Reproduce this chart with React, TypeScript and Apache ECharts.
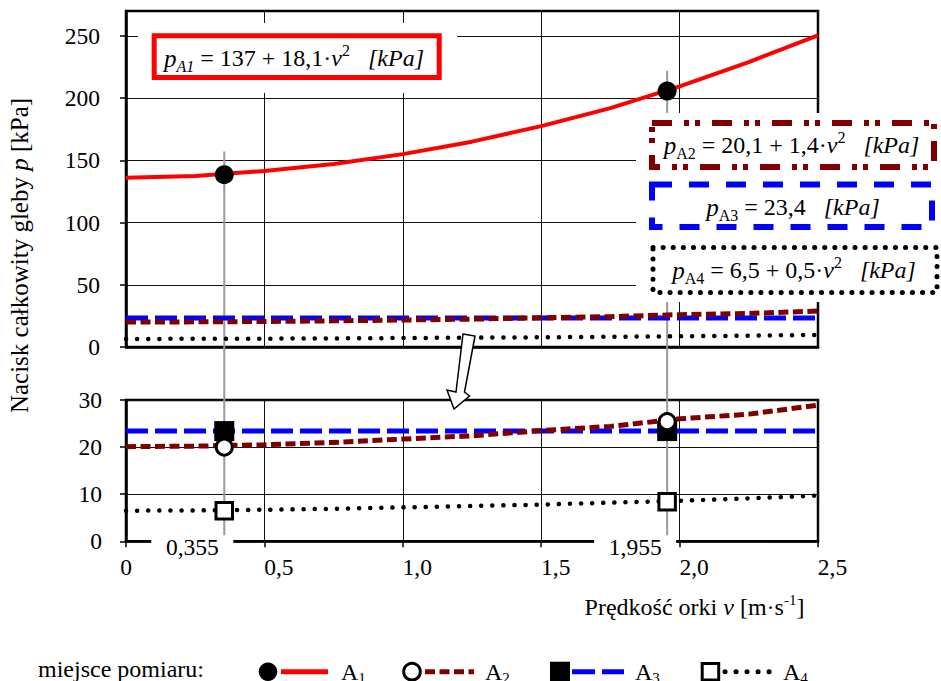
import React, { useEffect, useRef } from 'react';
import * as echarts from 'echarts';

// ---- data ----
const vGrid = [0, 0.25, 0.5, 0.75, 1.0, 1.25, 1.5, 1.75, 2.0, 2.25, 2.5];
const a1Vals = [136, 137.5, 141.5, 147, 155, 165, 177.5, 192, 209.5, 229, 250.5];
const a2Vals = [20.1, 20.2, 20.5, 21.0, 21.7, 22.4, 23.5, 24.4, 26.0, 27.0, 28.9];
const a3V = [0, 2.5];
const a3Vals = [23.4, 23.4];
const a4Vals = [6.5, 6.55, 6.7, 6.9, 7.2, 7.5, 7.8, 8.2, 8.6, 9.1, 9.7];

const measV = [0.355, 1.955];
const measLabels = ['0,355', '1,955'];
const a1Meas = [138.5, 205.7];
const a2Meas = [20.0, 25.4];
const a3Meas = [23.4, 23.4];
const a4Meas = [6.5, 8.4];

const yTopTicks = [0, 50, 100, 150, 200, 250];

const FONT = 'Liberation Serif, serif';
const TICK_FS = 23.5;

const pairs = (xs: number[], ys: number[]) => xs.map((x, i) => [x, ys[i]]);
const fmtX = (v: number) => (v === 0 ? '0' : v.toFixed(1).replace('.', ','));

export default function App() {
  const ref = useRef<HTMLDivElement>(null);
  useEffect(() => {
    const chart = echarts.init(ref.current!, null, { renderer: 'svg' });

    const lA1 = { color: '#ff0000', width: 4, type: 'solid' as const };
    const lA2 = { color: '#800000', width: 5, type: [10, 4.5] };
    const lA3 = { color: '#0000ff', width: 5, type: [22, 7] };
    const lA4 = { color: '#000000', width: 4.5, type: [0.1, 11], cap: 'round' };

    const axisLine = { show: true, lineStyle: { color: '#000', width: 2.5 } };
    const split = { show: true, lineStyle: { color: '#111', width: 1 } };

    const lineSeries = (name: string, xs: number[], ys: number[], ls: any, gi: number) => ({
      name,
      type: 'line',
      xAxisIndex: gi,
      yAxisIndex: gi,
      data: pairs(xs, ys),
      showSymbol: false,
      symbol: 'none',
      lineStyle: ls,
      silent: true,
      z: 2,
    });

    const option: any = {
      animation: false,
      backgroundColor: '#ffffff',
      textStyle: { fontFamily: FONT },
      grid: [
        { left: 126, top: 11, width: 692, height: 336, show: true, borderColor: '#000', borderWidth: 2.5 },
        { left: 126, top: 400, width: 692, height: 141.3, show: true, borderColor: '#000', borderWidth: 2.5 },
      ],
      xAxis: [
        {
          type: 'value', gridIndex: 0, min: 0, max: 2.5, interval: 0.5,
          axisLine, axisTick: { show: false }, axisLabel: { show: false }, splitLine: split,
        },
        {
          type: 'value', gridIndex: 1, min: 0, max: 2.5, interval: 0.5,
          axisLine,
          axisTick: { show: true, inside: false, length: 6, lineStyle: { color: '#000', width: 1.5 } },
          axisLabel: {
            show: true, margin: 14, color: '#000', fontFamily: FONT, fontSize: TICK_FS, align: 'center',
            formatter: (v: number) => (v === 0 ? '{z|0}' : '{a|' + fmtX(v) + '}'),
            rich: {
              z: { fontFamily: FONT, fontSize: TICK_FS, color: '#000' },
              a: { fontFamily: FONT, fontSize: TICK_FS, color: '#000', padding: [0, 0, 0, 29] },
            },
          },
          splitLine: split,
        },
      ],
      yAxis: [
        {
          type: 'value', gridIndex: 0, min: 0, max: 270, interval: 50,
          axisLine,
          axisTick: { show: true, inside: false, length: 6, lineStyle: { color: '#000', width: 1.5 }, customValues: yTopTicks },
          axisLabel: {
            show: true, margin: 26, color: '#000', fontFamily: FONT, fontSize: TICK_FS,
            customValues: yTopTicks,
            formatter: (v: number) => (v % 50 === 0 ? String(v) : ''),
          },
          splitLine: split,
        },
        {
          type: 'value', gridIndex: 1, min: 0, max: 30, interval: 10,
          axisLine,
          axisTick: { show: true, inside: false, length: 6, lineStyle: { color: '#000', width: 1.5 } },
          axisLabel: { show: true, margin: 24, color: '#000', fontFamily: FONT, fontSize: TICK_FS },
          splitLine: split,
        },
      ],
      series: [
        lineSeries('A1', vGrid, a1Vals, lA1, 0),
        lineSeries('A3top', a3V, a3Vals, lA3, 0),
        lineSeries('A2top', vGrid, a2Vals, lA2, 0),
        lineSeries('A4top', vGrid, a4Vals, lA4, 0),
        lineSeries('A3', a3V, a3Vals, lA3, 1),
        lineSeries('A2', vGrid, a2Vals, lA2, 1),
        lineSeries('A4', vGrid, a4Vals, lA4, 1),
        {
          name: 'A1 pomiar', type: 'scatter', xAxisIndex: 0, yAxisIndex: 0,
          data: pairs(measV, a1Meas), symbol: 'circle', symbolSize: 19,
          itemStyle: { color: '#000', opacity: 1 }, z: 5, silent: true,
        },
        {
          name: 'A3 pomiar', type: 'scatter', xAxisIndex: 1, yAxisIndex: 1,
          data: pairs(measV, a3Meas), symbol: 'rect', symbolSize: 20,
          itemStyle: { color: '#000', opacity: 1 }, z: 5, silent: true,
        },
        {
          name: 'A2 pomiar', type: 'scatter', xAxisIndex: 1, yAxisIndex: 1,
          data: pairs(measV, a2Meas), symbol: 'circle', symbolSize: 16,
          itemStyle: { color: '#fff', borderColor: '#000', borderWidth: 3, opacity: 1 }, z: 6, silent: true,
        },
        {
          name: 'A4 pomiar', type: 'scatter', xAxisIndex: 1, yAxisIndex: 1,
          data: pairs(measV, a4Meas), symbol: 'rect', symbolSize: 16.5,
          itemStyle: { color: '#fff', borderColor: '#000', borderWidth: 3, opacity: 1 }, z: 6, silent: true,
        },
      ],
    };
    chart.setOption(option);

    // ---- annotations ----
    const tok = (size: number, lh: number, italic = false, va?: string) => ({
      fontFamily: FONT, fontSize: size, fontStyle: italic ? 'italic' : 'normal', lineHeight: lh,
      fill: '#000', ...(va ? { verticalAlign: va } : {}),
    });
    const eqRich = {
      p: tok(25, 32, true),
      sub: tok(16, 16, true, 'bottom'),
      subn: tok(16, 16, false, 'bottom'),
      n: tok(24, 32),
      v: tok(24, 32, true),
      sup: tok(16, 16, false, 'top'),
      it: tok(24, 32, true),
    };
    const eqText = (x: number, y: number, text: string) => ({
      type: 'text', x, y, z: 12, silent: true,
      style: { text, rich: eqRich, align: 'center', verticalAlign: 'middle', fontFamily: FONT, fontSize: 24, fill: '#000' },
    });

    const graphics: any[] = [];

    // measurement guide lines & labels
    measV.forEach((v, i) => {
      const px = chart.convertToPixel({ xAxisIndex: 1 }, v) as number;
      const yTopVal = i === 0 ? 157 : 222;
      const y1 = chart.convertToPixel({ yAxisIndex: 0 }, yTopVal) as number;
      const y2 = chart.convertToPixel({ yAxisIndex: 1 }, 1.3) as number;
      graphics.push({
        type: 'line', z: 1, silent: true,
        shape: { x1: px, y1, x2: px, y2 },
        style: { stroke: '#9a9a9a', lineWidth: 2 },
      });
      const yAx = chart.convertToPixel({ yAxisIndex: 1 }, 0) as number;
      graphics.push({
        type: 'rect', z: 10, silent: true,
        shape: { x: px - 73, y: yAx - 5, width: 82, height: 24 },
        style: { fill: '#fff', stroke: null },
      });
      graphics.push({
        type: 'text', z: 11, silent: true, x: px - 5.5, y: yAx + 6,
        style: { text: measLabels[i], fontFamily: FONT, fontSize: TICK_FS, fill: '#000', align: 'right', verticalAlign: 'middle' },
      });
    });

    // equation boxes
    graphics.push({ type: 'rect', z: 8, silent: true, shape: { x: 138, y: 23, width: 319, height: 70 }, style: { fill: '#fff' } });
    graphics.push({
      type: 'rect', z: 9, silent: true, shape: { x: 154.2, y: 35.8, width: 285, height: 41.7 },
      style: { fill: '#fff', stroke: '#ff0000', lineWidth: 5 },
    });
    graphics.push(eqText(294, 58, '{p|p}{sub|A1}{n| = 137 + 18,1·}{v|v}{sup|2}{n|   }{it|[kPa]}'));

    graphics.push({ type: 'rect', z: 8, silent: true, shape: { x: 636, y: 113, width: 305, height: 189 }, style: { fill: '#fff' } });
    graphics.push({
      type: 'rect', z: 9, silent: true, shape: { x: 652, y: 123, width: 282, height: 44 },
      style: { fill: '#fff', stroke: '#800000', lineWidth: 6, lineDash: [20, 12, 5, 6, 5, 12] },
    });
    graphics.push(eqText(791.5, 145, '{p|p}{subn|A2}{n| = 20,1 + 1,4·}{v|v}{sup|2}{n|   }{it|[kPa]}'));
    graphics.push({
      type: 'rect', z: 9, silent: true, shape: { x: 652, y: 184.5, width: 280, height: 42.5 },
      style: { fill: '#fff', stroke: '#0000ff', lineWidth: 6, lineDash: [20, 17] },
    });
    graphics.push(eqText(793, 207, '{p|p}{subn|A3}{n| = 23,4   }{it|[kPa]}'));
    graphics.push({
      type: 'rect', z: 9, silent: true, shape: { x: 653, y: 247.5, width: 284, height: 45 },
      style: { fill: '#fff', stroke: '#000', lineWidth: 5, lineDash: [0.1, 10], lineCap: 'round' },
    });
    graphics.push(eqText(794, 270, '{p|p}{subn|A4}{n| = 6,5 + 0,5·}{v|v}{sup|2}{n|   }{it|[kPa]}'));

    // arrow
    graphics.push({
      type: 'polygon', z: 12, silent: true,
      shape: { points: [[463, 334], [475, 336], [464.5, 392], [469.5, 396], [454, 409], [447, 390], [456, 392]] },
      style: { fill: '#fff', stroke: '#000', lineWidth: 1.5 },
    });

    // axis titles
    const yTitleRich = { n: tok(25, 30), i: tok(25, 30, true) };
    const xTitleRich = { n: tok(24, 30), i: tok(24, 30, true), sup: tok(15, 15, false, 'top') };
    graphics.push({
      type: 'text', z: 12, silent: true, x: 19.5, y: 255.5, rotation: Math.PI / 2,
      style: { text: '{n|Nacisk całkowity gleby }{i|p}{n| [kPa]}', rich: yTitleRich, align: 'center', verticalAlign: 'middle', fontFamily: FONT, fontSize: 25, fill: '#000' },
    });
    graphics.push({
      type: 'text', z: 12, silent: true, x: 694.5, y: 607,
      style: { text: '{n|Prędkość orki }{i|v}{n| [m·s}{sup|-1}{n|]}', rich: xTitleRich, align: 'center', verticalAlign: 'middle', fontFamily: FONT, fontSize: 24, fill: '#000' },
    });

    // legend
    const LY = 671.7;
    const legRich = { a: tok(24, 26), s: tok(15, 15, false, 'bottom') };
    const legText = (x: number, idx: string) => ({
      type: 'text', z: 12, silent: true, x, y: LY + 0.5,
      style: { text: '{a|A}{s|' + idx + '}', rich: legRich, align: 'left', verticalAlign: 'middle', fontFamily: FONT, fontSize: 24, fill: '#000' },
    });
    graphics.push({
      type: 'text', z: 12, silent: true, x: 38, y: LY - 2.5,
      style: { text: 'miejsce pomiaru:', fontFamily: FONT, fontSize: 24, fill: '#000', align: 'left', verticalAlign: 'middle' },
    });
    graphics.push({ type: 'circle', z: 12, silent: true, shape: { cx: 268, cy: LY, r: 9.3 }, style: { fill: '#000' } });
    graphics.push({ type: 'line', z: 12, silent: true, shape: { x1: 281, y1: LY, x2: 328, y2: LY }, style: { stroke: '#ff0000', lineWidth: 5 } });
    graphics.push(legText(341, '1'));
    graphics.push({ type: 'circle', z: 12, silent: true, shape: { cx: 412, cy: LY, r: 8.3 }, style: { fill: '#fff', stroke: '#000', lineWidth: 3 } });
    graphics.push({ type: 'line', z: 12, silent: true, shape: { x1: 425, y1: LY, x2: 474, y2: LY }, style: { stroke: '#800000', lineWidth: 5, lineDash: [10, 4.5] } });
    graphics.push(legText(485, '2'));
    graphics.push({ type: 'rect', z: 12, silent: true, shape: { x: 550, y: LY - 10, width: 20, height: 20 }, style: { fill: '#000' } });
    graphics.push({ type: 'line', z: 12, silent: true, shape: { x1: 572, y1: LY, x2: 624, y2: LY }, style: { stroke: '#0000ff', lineWidth: 5, lineDash: [23, 7] } });
    graphics.push(legText(635, '3'));
    graphics.push({ type: 'rect', z: 12, silent: true, shape: { x: 702.2, y: LY - 8.3, width: 16.5, height: 16.5 }, style: { fill: '#fff', stroke: '#000', lineWidth: 3 } });
    graphics.push({ type: 'line', z: 12, silent: true, shape: { x1: 725, y1: LY, x2: 770, y2: LY }, style: { stroke: '#000', lineWidth: 5, lineDash: [0.1, 10.9], lineCap: 'round' } });
    graphics.push(legText(783, '4'));

    chart.setOption({ graphic: { elements: graphics } });

    return () => chart.dispose();
  }, []);

  return (
    <div
      ref={ref}
      style={{ position: 'fixed', left: 0, top: 0, width: 941, height: 681, background: '#fff' }}
    />
  );
}
